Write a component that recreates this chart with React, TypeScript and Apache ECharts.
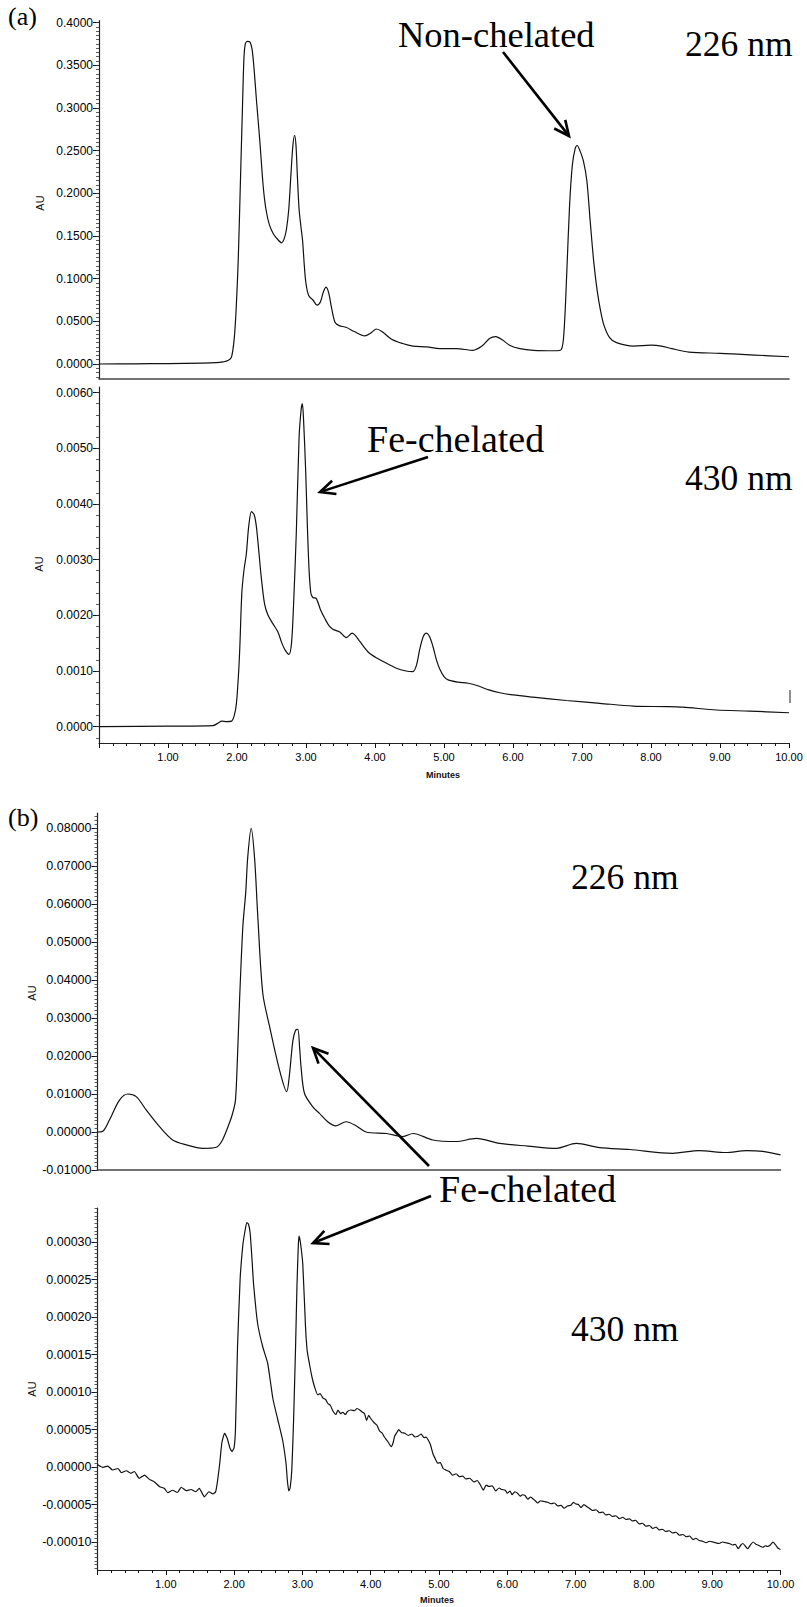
import React, { useEffect, useRef } from "react";
import * as echarts from "echarts";

// ---------- data (minutes, AU) ----------
const minuteTicks = [1, 2, 3, 4, 5, 6, 7, 8, 9, 10];
const a226Ticks = [0, 0.05, 0.1, 0.15, 0.2, 0.25, 0.3, 0.35, 0.4];
const a430Ticks = [0, 0.001, 0.002, 0.003, 0.004, 0.005, 0.006];
const b226Ticks = [-0.01, 0, 0.01, 0.02, 0.03, 0.04, 0.05, 0.06, 0.07, 0.08];
const b430Ticks = [-0.0001, -0.00005, 0, 0.00005, 0.0001, 0.00015, 0.0002, 0.00025, 0.0003];

const a226 = [
  [0, 0], [0.5, 0.0002], [1.0, 0.0005], [1.5, 0.001], [1.7, 0.0015], [1.8, 0.0025], [1.87, 0.004], [1.92, 0.008],
  [1.96, 0.03], [1.99, 0.068], [2.02, 0.127], [2.05, 0.215], [2.08, 0.303], [2.1, 0.357], [2.12, 0.375], [2.15, 0.378],
  [2.19, 0.377], [2.22, 0.368], [2.25, 0.343], [2.28, 0.311], [2.33, 0.262], [2.38, 0.208], [2.42, 0.181], [2.47, 0.163],
  [2.53, 0.152], [2.6, 0.145], [2.645, 0.142], [2.68, 0.146], [2.715, 0.157], [2.75, 0.181], [2.78, 0.22], [2.81, 0.256],
  [2.835, 0.268], [2.855, 0.256], [2.875, 0.22], [2.9, 0.181], [2.925, 0.162], [2.95, 0.145], [2.975, 0.116], [3.0, 0.094],
  [3.04, 0.08], [3.1, 0.075], [3.16, 0.069], [3.21, 0.073], [3.25, 0.084], [3.29, 0.09], [3.33, 0.083], [3.37, 0.066],
  [3.42, 0.049], [3.48, 0.045], [3.58, 0.043], [3.7, 0.038], [3.85, 0.033], [3.95, 0.037], [4.02, 0.041], [4.1, 0.038],
  [4.24, 0.029], [4.4, 0.024], [4.55, 0.021], [4.75, 0.02], [4.94, 0.018], [5.18, 0.018], [5.42, 0.016], [5.55, 0.021],
  [5.66, 0.03], [5.75, 0.032], [5.85, 0.028], [5.95, 0.022], [6.1, 0.018], [6.3, 0.016], [6.6, 0.0155], [6.7, 0.017],
  [6.74, 0.039], [6.78, 0.108], [6.82, 0.186], [6.86, 0.233], [6.9, 0.252], [6.93, 0.256], [6.97, 0.25], [7.02, 0.238],
  [7.07, 0.215], [7.12, 0.166], [7.17, 0.12], [7.22, 0.086], [7.27, 0.062], [7.32, 0.045], [7.4, 0.031], [7.5, 0.025],
  [7.75, 0.021], [8.0, 0.022], [8.15, 0.021], [8.3, 0.018], [8.55, 0.014], [9.0, 0.0125], [9.5, 0.0105], [10, 0.0085],
];

const a430 = [
  [0, 0], [1.0, 0.00001], [1.65, 0.00002], [1.72, 0.00006], [1.78, 0.0001], [1.85, 0.00009], [1.92, 0.0001],
  [1.96, 0.0002], [1.99, 0.0004], [2.02, 0.0009], [2.04, 0.0014], [2.07, 0.0024], [2.1, 0.0028], [2.135, 0.0031],
  [2.17, 0.0036], [2.21, 0.00386], [2.25, 0.0038], [2.28, 0.0036], [2.32, 0.0031], [2.35, 0.0027], [2.4, 0.0022],
  [2.45, 0.002], [2.52, 0.00185], [2.593, 0.0017], [2.65, 0.0015], [2.7, 0.00137], [2.753, 0.0013], [2.79, 0.0015],
  [2.82, 0.0022], [2.86, 0.0035], [2.9, 0.0052], [2.93, 0.0057], [2.947, 0.0058], [2.965, 0.0055], [2.995, 0.0046],
  [3.02, 0.0036], [3.045, 0.0028], [3.07, 0.0024], [3.1, 0.00232], [3.15, 0.0023], [3.21, 0.0021], [3.27, 0.00195],
  [3.33, 0.00182], [3.39, 0.00175], [3.49, 0.0017], [3.585, 0.0016], [3.67, 0.00168], [3.72, 0.00163], [3.78, 0.00153],
  [3.92, 0.00132], [4.12, 0.00117], [4.31, 0.00105], [4.45, 0.001], [4.55, 0.00099], [4.6, 0.0011], [4.65, 0.0014],
  [4.7, 0.00162], [4.744, 0.00168], [4.79, 0.00162], [4.84, 0.00144], [4.89, 0.0012], [4.94, 0.00103], [5.0, 0.0009],
  [5.06, 0.00084], [5.2, 0.0008], [5.35, 0.00078], [5.5, 0.00073], [5.65, 0.00066], [5.81, 0.00061], [6.0, 0.00057],
  [6.29, 0.00053], [6.77, 0.00047], [7.26, 0.00042], [7.74, 0.00037], [8.23, 0.00036], [8.46, 0.00035], [8.95, 0.0003],
  [9.43, 0.00028], [10, 0.00025],
];

const b226 = [
  [0, 0], [0.078, 0.0002], [0.176, 0.0032], [0.322, 0.0084], [0.444, 0.01], [0.567, 0.0093], [0.713, 0.0058],
  [0.908, 0.0014], [1.1, -0.0021], [1.3, -0.0034], [1.54, -0.0043], [1.74, -0.004], [1.83, -0.0021], [1.93, 0.0023],
  [1.98, 0.005], [2.02, 0.0084], [2.05, 0.02], [2.08, 0.0347], [2.128, 0.054], [2.17, 0.063], [2.2, 0.0724],
  [2.25, 0.0799], [2.3, 0.072], [2.347, 0.0567], [2.42, 0.0365], [2.52, 0.0277], [2.665, 0.0163], [2.77, 0.0106],
  [2.81, 0.015], [2.86, 0.024], [2.9, 0.0268], [2.933, 0.027], [2.96, 0.022], [2.98, 0.0172], [3.03, 0.0102],
  [3.15, 0.0067], [3.25, 0.0049], [3.37, 0.0027], [3.49, 0.0016], [3.64, 0.0027], [3.79, 0.0016], [3.93, 0.0],
  [4.23, -0.0004], [4.47, -0.0012], [4.62, -0.0004], [4.91, -0.0021], [5.25, -0.0025], [5.545, -0.0017],
  [5.886, -0.003], [6.3, -0.0037], [6.716, -0.0043], [7.01, -0.003], [7.35, -0.0041], [7.79, -0.0046],
  [8.42, -0.0056], [8.81, -0.0049], [9.2, -0.0054], [9.5, -0.0049], [9.74, -0.0051], [10, -0.006],
];

const b430 = [
  [0, 0.3e-5], [0.08, -0.05e-5], [0.15, 0.13e-5], [0.22, -0.4e-5], [0.3, -0.2e-5], [0.35, -0.76e-5], [0.42, -0.5e-5],
  [0.49, -0.85e-5], [0.54, -0.6e-5], [0.61, -1.5e-5], [0.69, -1.07e-5], [0.76, -1.65e-5], [0.83, -1.96e-5],
  [0.91, -2.63e-5], [0.98, -2.86e-5], [1.03, -3.43e-5], [1.1, -3.1e-5], [1.17, -3.4e-5], [1.225, -2.7e-5],
  [1.3, -3.16e-5], [1.37, -3.0e-5], [1.44, -3.3e-5], [1.49, -2.86e-5], [1.565, -3.97e-5], [1.63, -3.3e-5],
  [1.69, -3.6e-5], [1.73, -3.3e-5], [1.76, -1.7e-5], [1.79, 0.5e-5], [1.82, 3.2e-5], [1.86, 4.5e-5], [1.9, 3.8e-5],
  [1.94, 2.5e-5], [1.97, 2.05e-5], [2.0, 2.6e-5], [2.02, 5e-5], [2.05, 16e-5], [2.088, 25e-5], [2.127, 29.5e-5],
  [2.16, 31.5e-5], [2.186, 32.6e-5], [2.21, 32.4e-5], [2.235, 31.2e-5], [2.26, 28e-5], [2.284, 24.5e-5],
  [2.32, 21e-5], [2.35, 18.8e-5], [2.42, 16e-5], [2.49, 13.9e-5], [2.53, 11.5e-5], [2.57, 9.0e-5], [2.64, 6.3e-5],
  [2.71, 3.6e-5], [2.76, 0.5e-5], [2.78, -1.8e-5], [2.8, -3.2e-5], [2.82, -2.8e-5], [2.845, -0.4e-5], [2.87, 6e-5],
  [2.9, 16e-5], [2.92, 24e-5], [2.94, 29.5e-5], [2.95, 30.8e-5], [2.97, 30e-5], [3.006, 27e-5], [3.045, 18.8e-5],
  [3.07, 15.5e-5], [3.1, 13.9e-5], [3.14, 12e-5], [3.177, 10.7e-5], [3.225, 9.6e-5], [3.26, 9.8e-5], [3.3, 9.2e-5],
  [3.34, 9.0e-5], [3.37, 8.5e-5], [3.41, 8.2e-5], [3.445, 7.5e-5], [3.49, 7.0e-5], [3.52, 7.6e-5], [3.56, 7.1e-5],
  [3.59, 7.3e-5], [3.63, 7.0e-5], [3.66, 7.4e-5], [3.71, 7.6e-5], [3.76, 7.5e-5], [3.8, 7.8e-5], [3.84, 7.6e-5],
  [3.88, 7.3e-5], [3.91, 7.1e-5], [3.94, 6.2e-5], [3.97, 6.9e-5], [3.99, 6.6e-5], [4.05, 5.9e-5], [4.09, 5.6e-5],
  [4.13, 4.8e-5], [4.17, 4.5e-5], [4.2, 4.0e-5], [4.25, 3.4e-5], [4.3, 2.7e-5], [4.33, 3.3e-5], [4.35, 4.1e-5],
  [4.39, 4.7e-5], [4.41, 5.0e-5], [4.45, 4.6e-5], [4.5, 4.5e-5], [4.55, 4.2e-5], [4.6, 4.4e-5], [4.65, 4.0e-5],
  [4.69, 4.1e-5], [4.74, 4.4e-5], [4.78, 3.9e-5], [4.81, 4.0e-5], [4.87, 3.1e-5], [4.91, 1.8e-5], [4.95, 1.0e-5],
  [4.98, 0.5e-5], [5.02, 0.6e-5], [5.06, -0.2e-5], [5.1, -0.4e-5], [5.15, -0.6e-5], [5.2, -1.1e-5], [5.25, -0.9e-5],
  [5.3, -1.3e-5], [5.35, -1.2e-5], [5.39, -1.6e-5], [5.45, -1.5e-5], [5.51, -2.0e-5], [5.56, -1.8e-5], [5.6, -2.3e-5],
  [5.65, -3.1e-5], [5.69, -2.4e-5], [5.73, -2.6e-5], [5.78, -2.5e-5], [5.83, -3.2e-5], [5.88, -2.8e-5], [5.92, -3.0e-5],
  [5.97, -3.1e-5], [6.0, -3.5e-5], [6.04, -3.2e-5], [6.07, -3.7e-5], [6.11, -3.3e-5], [6.15, -3.5e-5], [6.19, -3.9e-5],
  [6.22, -3.7e-5], [6.26, -3.8e-5], [6.3, -4.3e-5], [6.34, -4.0e-5], [6.37, -4.2e-5], [6.41, -4.5e-5], [6.44, -4.8e-5],
  [6.49, -4.5e-5], [6.54, -4.6e-5], [6.59, -4.7e-5], [6.64, -4.9e-5], [6.69, -4.8e-5], [6.74, -5.2e-5], [6.79, -5.1e-5],
  [6.83, -5.5e-5], [6.88, -5.2e-5], [6.93, -5.1e-5], [6.97, -4.7e-5], [7.0, -4.9e-5], [7.04, -5.0e-5], [7.08, -5.4e-5],
  [7.12, -5.0e-5], [7.15, -5.2e-5], [7.2, -5.5e-5], [7.25, -5.8e-5], [7.3, -5.7e-5], [7.35, -6.1e-5], [7.4, -6.0e-5],
  [7.44, -6.4e-5], [7.49, -6.3e-5], [7.54, -6.6e-5], [7.59, -6.5e-5], [7.64, -6.9e-5], [7.69, -6.7e-5], [7.74, -7.0e-5],
  [7.79, -6.9e-5], [7.83, -7.2e-5], [7.88, -7.1e-5], [7.93, -7.6e-5], [7.98, -7.5e-5], [8.03, -7.9e-5], [8.08, -7.8e-5],
  [8.13, -8.2e-5], [8.18, -8.0e-5], [8.22, -8.4e-5], [8.27, -8.3e-5], [8.32, -8.6e-5], [8.37, -8.5e-5], [8.42, -8.8e-5],
  [8.47, -8.7e-5], [8.52, -9.1e-5], [8.57, -9.0e-5], [8.62, -9.3e-5], [8.67, -9.2e-5], [8.72, -9.7e-5], [8.76, -9.5e-5],
  [8.81, -9.8e-5], [8.86, -9.9e-5], [8.91, -10.1e-5], [8.96, -9.9e-5], [9.01, -10.0e-5], [9.05, -10.1e-5], [9.1, -10.2e-5],
  [9.15, -10.0e-5], [9.2, -10.1e-5], [9.25, -10.2e-5], [9.3, -10.4e-5], [9.34, -10.3e-5], [9.38, -10.9e-5], [9.42, -10.4e-5],
  [9.45, -10.2e-5], [9.49, -10.6e-5], [9.52, -10.9e-5], [9.56, -10.4e-5], [9.6, -10.0e-5], [9.64, -10.3e-5], [9.67, -10.4e-5],
  [9.71, -10.6e-5], [9.74, -10.7e-5], [9.78, -10.5e-5], [9.81, -10.6e-5], [9.85, -10.4e-5], [9.89, -10.0e-5], [9.93, -10.4e-5],
  [9.96, -10.8e-5], [10, -11.0e-5],
];

// ---------- layout ----------
const SANS = "'Liberation Sans', Arial, sans-serif";
const SERIF = "'Liberation Serif', 'Times New Roman', serif";
const INK = "#111";

type Panel = {
  data: number[][]; ticks: number[]; decimals: number; minorStep: number;
  x0: number; x10: number; top: number; bottom: number;
  refHi: [number, number]; refLo: [number, number]; showX: boolean; fs: number;
};

const panels: Panel[] = [
  { data: a226, ticks: a226Ticks, decimals: 4, minorStep: 0.005, x0: 99, x10: 789, top: 20.5, bottom: 379,
    refHi: [0.4, 22.6], refLo: [0, 364], showX: false, fs: 12 },
  { data: a430, ticks: a430Ticks, decimals: 4, minorStep: 0.0002, x0: 99, x10: 789, top: 387, bottom: 743,
    refHi: [0.006, 392.5], refLo: [0, 726.7], showX: true, fs: 12 },
  { data: b226, ticks: b226Ticks, decimals: 5, minorStep: 0.001, x0: 97.5, x10: 780.5, top: 813, bottom: 1170,
    refHi: [0.08, 828], refLo: [-0.01, 1170], showX: false, fs: 12.5 },
  { data: b430, ticks: b430Ticks, decimals: 5, minorStep: 0.000005, x0: 97.5, x10: 780.5, top: 1208, bottom: 1570,
    refHi: [0.0003, 1242], refLo: [-0.0001, 1542], showX: true, fs: 12.5 },
];

function yRange(p: Panel) {
  const scale = (p.refLo[1] - p.refHi[1]) / (p.refHi[0] - p.refLo[0]);
  return {
    max: p.refHi[0] + (p.refHi[1] - p.top) / scale,
    min: p.refLo[0] - (p.bottom - p.refLo[1]) / scale,
  };
}

function stepsIn(min: number, max: number, step: number) {
  const out: number[] = [];
  const k0 = Math.ceil(min / step - 1e-9);
  const k1 = Math.floor(max / step + 1e-9);
  for (let k = k0; k <= k1; k++) out.push(Number((k * step).toPrecision(10)));
  return out;
}

function arrow(x1: number, y1: number, x2: number, y2: number) {
  const dx = x2 - x1, dy = y2 - y1;
  const len = Math.hypot(dx, dy);
  const ux = dx / len, uy = dy / len;
  const nx = -uy, ny = ux;
  const L = 15, Wd = 7;
  const style = { stroke: "#000", lineWidth: 2.6, fill: "none", lineCap: "butt", lineJoin: "miter" };
  return [
    { type: "line", silent: true, shape: { x1, y1, x2: x2 - ux * 2, y2: y2 - uy * 2 }, style },
    {
      type: "polyline", silent: true,
      shape: { points: [[x2 - ux * L + nx * Wd, y2 - uy * L + ny * Wd], [x2, y2], [x2 - ux * L - nx * Wd, y2 - uy * L - ny * Wd]] },
      style,
    },
  ];
}

function serifText(text: string, x: number, baseline: number, fs: number) {
  return {
    type: "text", silent: true, x, y: baseline - 0.3 * fs,
    style: { text, fill: "#000", font: `${fs}px ${SERIF}`, align: "left", verticalAlign: "middle" },
  };
}

function sansText(text: string, x: number, y: number, fs: number, weight = "normal", rotation = 0) {
  return {
    type: "text", silent: true, x, y, rotation,
    style: { text, fill: INK, font: `${weight} ${fs}px ${SANS}`, align: "center", verticalAlign: "middle" },
  };
}

function buildOption() {
  const grid: any[] = [];
  const xAxis: any[] = [];
  const yAxis: any[] = [];
  const series: any[] = [];

  panels.forEach((p, i) => {
    const { min, max } = yRange(p);
    grid.push({ left: p.x0, top: p.top, width: p.x10 - p.x0, height: p.bottom - p.top, containLabel: false, outerBoundsMode: "none" });
    const axisLineStyle = { color: p.showX ? "#222" : "#444", width: p.showX ? 1.2 : 1.6 };
    xAxis.push({
      type: "value", gridIndex: i, min: 0, max: 10, position: "bottom",
      axisLine: { show: true, onZero: false, lineStyle: axisLineStyle },
      axisTick: { show: p.showX, customValues: [0, ...minuteTicks], length: 5, inside: false, lineStyle: { color: INK, width: 1 } },
      axisLabel: {
        show: p.showX, customValues: minuteTicks, formatter: (v: number) => v.toFixed(2),
        fontFamily: SANS, fontSize: 11, color: "#000", margin: 8,
      },
      splitLine: { show: false },
    });
    xAxis.push({
      type: "value", gridIndex: i, min: 0, max: 10, position: "bottom",
      axisLine: { show: false, onZero: false },
      axisTick: { show: p.showX, customValues: stepsIn(0, 10, 0.2), length: 3, lineStyle: { color: INK, width: 1 } },
      axisLabel: { show: false },
      splitLine: { show: false },
    });
    yAxis.push({
      type: "value", gridIndex: i, min, max, position: "left",
      axisLine: { show: true, onZero: false, lineStyle: { color: "#222", width: 1.2 } },
      axisTick: { show: true, customValues: p.ticks, length: 6, lineStyle: { color: INK, width: 1 } },
      axisLabel: {
        customValues: p.ticks, formatter: (v: number) => v.toFixed(p.decimals),
        fontFamily: SANS, fontSize: p.fs, color: "#000", margin: 6,
      },
      splitLine: { show: false },
    });
    yAxis.push({
      type: "value", gridIndex: i, min, max, position: "left",
      axisLine: { show: false, onZero: false },
      axisTick: { show: true, customValues: stepsIn(min, max, p.minorStep), length: 3, lineStyle: { color: "#333", width: 0.8 } },
      axisLabel: { show: false },
      splitLine: { show: false },
    });
    series.push({
      type: "line", xAxisIndex: i * 2, yAxisIndex: i * 2, data: p.data,
      showSymbol: false, symbol: "none", smooth: i === 3 ? 0.15 : 0.3, silent: true,
      lineStyle: { color: INK, width: 1.2 },
    });
  });

  const elements: any[] = [
    serifText("(a)", 8, 24, 26),
    serifText("(b)", 8, 825, 26),
    serifText("Non-chelated", 398, 45, 36.5),
    serifText("226 nm", 685, 55, 35.5),
    serifText("Fe-chelated", 367, 450, 38),
    serifText("430 nm", 685, 489, 35.5),
    serifText("226 nm", 571, 888, 35.5),
    serifText("Fe-chelated", 439, 1200, 38),
    serifText("430 nm", 571, 1340, 35.5),
    ...arrow(503, 52, 569, 136),
    ...arrow(428, 457, 320, 492),
    ...arrow(429, 1166, 313, 1048),
    ...arrow(431, 1196, 313, 1243),
    sansText("AU", 40, 203, 11, "normal", Math.PI / 2),
    sansText("AU", 39, 564, 11, "normal", Math.PI / 2),
    sansText("AU", 32, 993, 11, "normal", Math.PI / 2),
    sansText("AU", 32, 1389, 11, "normal", Math.PI / 2),
    sansText("Minutes", 443, 775, 9, "bold"),
    sansText("Minutes", 437, 1600, 9, "bold"),
    { type: "line", silent: true, shape: { x1: 790, y1: 690, x2: 790, y2: 703 }, style: { stroke: "#222", lineWidth: 1 } },
  ];

  return {
    animation: false,
    backgroundColor: "#fff",
    grid, xAxis, yAxis, series,
    graphic: { elements },
  };
}

export default function App() {
  const ref = useRef<HTMLDivElement>(null);
  useEffect(() => {
    if (!ref.current) return;
    const chart = echarts.init(ref.current, null, { renderer: "svg", width: 807, height: 1607 });
    chart.setOption(buildOption() as any);
    return () => chart.dispose();
  }, []);
  return (
    <div
      ref={ref}
      style={{ position: "absolute", left: 0, top: 0, width: 807, height: 1607, background: "#fff" }}
    />
  );
}
